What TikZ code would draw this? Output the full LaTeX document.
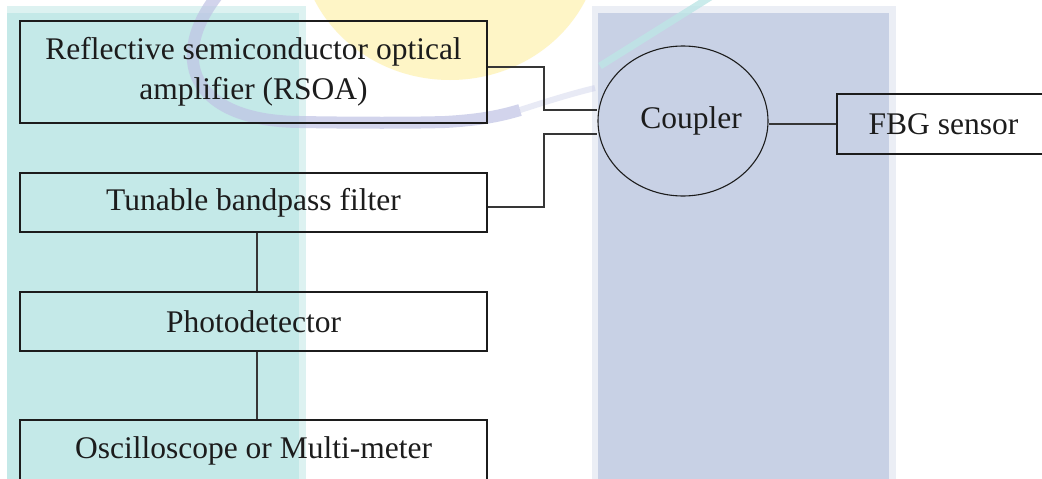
\documentclass[tikz,border=0pt]{standalone}
\usepackage{fontspec}
\setmainfont{Liberation Serif}
\usetikzlibrary{shapes.geometric}
\definecolor{tealmain}{HTML}{C4E9E8}
\definecolor{teallight}{HTML}{DDF2F1}
\definecolor{bluemain}{HTML}{C8D1E5}
\definecolor{bluelight}{HTML}{EBEEF5}
\definecolor{yellowmark}{HTML}{FEF5C6}
\definecolor{purplemark}{HTML}{BFC3E4}
\definecolor{cyanmark}{HTML}{BDE6E6}
\definecolor{inkcol}{HTML}{1C1C1C}
\definecolor{wirecol}{HTML}{363636}
\tikzset{
  blockbox/.style={draw=inkcol, line width=1.1pt, rectangle, text=inkcol,
    font=\fontsize{31.5}{40}\selectfont, align=center, inner sep=0pt},
  couplerbox/.style={draw=inkcol, line width=1.1pt, ellipse, text=inkcol,
    font=\fontsize{31.5}{40}\selectfont, inner sep=0pt,
    minimum width=170pt, minimum height=150pt},
  wire/.style={draw=wirecol, line width=2pt}
}
\begin{document}
\begin{tikzpicture}[x=1pt,y=-1pt]
\useasboundingbox (0,0) rectangle (1042,479);
\clip (0,0) rectangle (1042,479);
\fill[white] (0,0) rectangle (1042,479);
% watermark
\fill[yellowmark] (450,-60) ellipse [x radius=150, y radius=140];
\fill[teallight] (7,6) rectangle (306,480);
\fill[tealmain] (7,13) rectangle (299,480);
\fill[bluelight] (592,6) rectangle (896,480);
\fill[bluemain] (598,13) rectangle (889,480);
\draw[purplemark, line width=12pt, opacity=0.7]
  (220,-8) .. controls (168,55) and (188,121) .. (300,122)
  .. controls (360,123) and (410,123) .. (445,122)
  .. controls (480,120) and (500,116) .. (520,110);
\draw[purplemark, line width=6pt, opacity=0.35]
  (520,110) .. controls (545,102) and (570,94) .. (595,88);
\draw[cyanmark, line width=7pt, opacity=0.8] (600,66) -- (712,-4);
% blocks
\node[blockbox, minimum width=467pt, minimum height=102pt] (rsoa) at (253.5,72)
  {Reflective semiconductor optical\\amplifier (RSOA)};
\node[blockbox, minimum width=467pt, minimum height=59pt] (tbf) at (253.5,202.5)
  {Tunable bandpass filter};
\node[blockbox, minimum width=467pt, minimum height=59pt] (pd) at (253.5,321.5)
  {Photodetector};
\node[blockbox, minimum width=467pt, minimum height=62pt] (osc) at (253.5,451)
  {\raisebox{1.5pt}{Oscilloscope or Multi-meter}};
\node[couplerbox] (coupler) at (683,121) {\hspace*{16pt}Coupler};
\node[blockbox, minimum width=213pt, minimum height=60pt] (fbg) at (943.5,124)
  {FBG sensor};
% connectors
\draw[wire] ([yshift=5pt]rsoa.east) -- ++(56,0) |- ([yshift=11pt]coupler.west);
\draw[wire] ([yshift=-4.5pt]tbf.east) -- ++(56,0) |- ([yshift=-13pt]coupler.west);
\draw[wire] (fbg.west) -- (fbg.west -| coupler.east);
\draw[wire] ([xshift=3pt]tbf.south) -- ([xshift=3pt]pd.north);
\draw[wire] ([xshift=3pt]pd.south) -- ([xshift=3pt]osc.north);
\end{tikzpicture}
\end{document}
